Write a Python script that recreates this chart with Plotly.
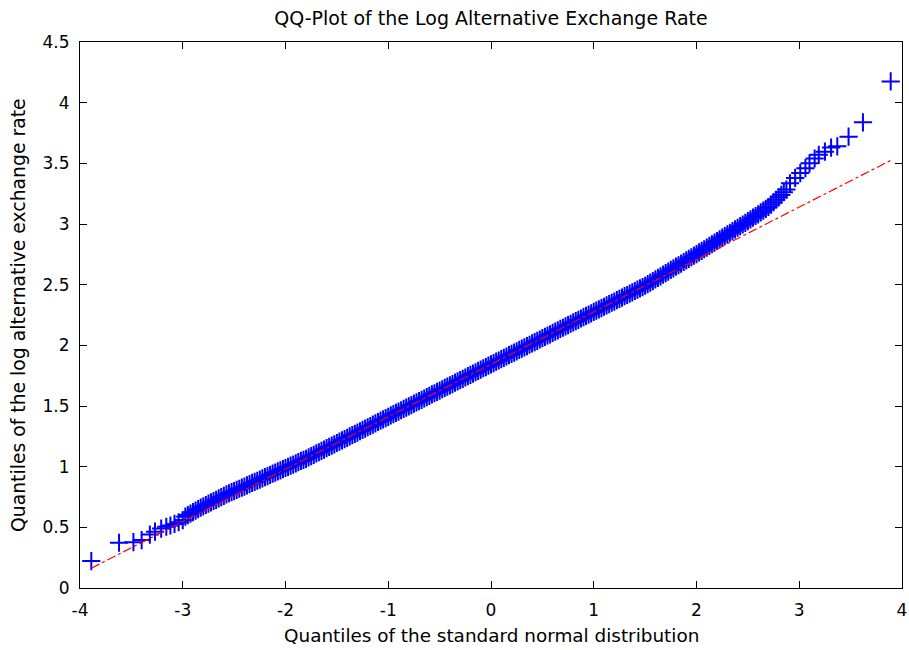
import plotly.graph_objects as go

# Left tail sample points (theoretical quantile, sample quantile)
tail_left_x = [-3.89, -3.62, -3.48, -3.40, -3.32, -3.27, -3.21, -3.16, -3.12, -3.08, -3.04, -3.00]
tail_left_y = [0.222, 0.373, 0.378, 0.395, 0.440, 0.464, 0.490, 0.505, 0.515, 0.528, 0.542, 0.560]

# Dense body of the QQ plot
body_x = [
    -2.975, -2.95, -2.925, -2.9, -2.875, -2.85, -2.825, -2.8, -2.775, -2.75, -2.725, -2.7,
    -2.675, -2.65, -2.625, -2.6, -2.575, -2.55, -2.525, -2.5, -2.475, -2.45, -2.425, -2.4,
    -2.375, -2.35, -2.325, -2.3, -2.275, -2.25, -2.225, -2.2, -2.175, -2.15, -2.125, -2.1,
    -2.075, -2.05, -2.025, -2.0, -1.975, -1.95, -1.925, -1.9, -1.875, -1.85, -1.825, -1.8,
    -1.775, -1.75, -1.725, -1.7, -1.675, -1.65, -1.625, -1.6, -1.575, -1.55, -1.525, -1.5,
    -1.475, -1.45, -1.425, -1.4, -1.375, -1.35, -1.325, -1.3, -1.275, -1.25, -1.225, -1.2,
    -1.175, -1.15, -1.125, -1.1, -1.075, -1.05, -1.025, -1.0, -0.975, -0.95, -0.925, -0.9,
    -0.875, -0.85, -0.825, -0.8, -0.775, -0.75, -0.725, -0.7, -0.675, -0.65, -0.625, -0.6,
    -0.575, -0.55, -0.525, -0.5, -0.475, -0.45, -0.425, -0.4, -0.375, -0.35, -0.325, -0.3,
    -0.275, -0.25, -0.225, -0.2, -0.175, -0.15, -0.125, -0.1, -0.075, -0.05, -0.025, 0.0,
    0.025, 0.05, 0.075, 0.1, 0.125, 0.15, 0.175, 0.2, 0.225, 0.25, 0.275, 0.3,
    0.325, 0.35, 0.375, 0.4, 0.425, 0.45, 0.475, 0.5, 0.525, 0.55, 0.575, 0.6,
    0.625, 0.65, 0.675, 0.7, 0.725, 0.75, 0.775, 0.8, 0.825, 0.85, 0.875, 0.9,
    0.925, 0.95, 0.975, 1.0, 1.025, 1.05, 1.075, 1.1, 1.125, 1.15, 1.175, 1.2,
    1.225, 1.25, 1.275, 1.3, 1.325, 1.35, 1.375, 1.4, 1.425, 1.45, 1.475, 1.5,
    1.525, 1.55, 1.575, 1.6, 1.625, 1.65, 1.675, 1.7, 1.725, 1.75, 1.775, 1.8,
    1.825, 1.85, 1.875, 1.9, 1.925, 1.95, 1.975, 2.0, 2.025, 2.05, 2.075, 2.1,
    2.125, 2.15, 2.175, 2.2, 2.225, 2.25, 2.275, 2.3, 2.325, 2.35, 2.375, 2.4,
    2.425, 2.45, 2.475, 2.5, 2.525, 2.55, 2.575, 2.6, 2.625, 2.65, 2.675, 2.7,
    2.725, 2.75, 2.775, 2.8, 2.825, 2.85, 2.875,
]
body_y = [
    0.588, 0.601, 0.613, 0.625, 0.638, 0.650, 0.663, 0.673, 0.684, 0.695, 0.706, 0.717,
    0.727, 0.738, 0.749, 0.760, 0.771, 0.781, 0.790, 0.798, 0.808, 0.818, 0.827, 0.836,
    0.846, 0.856, 0.866, 0.874, 0.884, 0.894, 0.904, 0.913, 0.922, 0.932, 0.942, 0.951,
    0.961, 0.970, 0.980, 0.989, 0.999, 1.009, 1.017, 1.027, 1.037, 1.047, 1.056, 1.065,
    1.076, 1.087, 1.098, 1.109, 1.119, 1.130, 1.141, 1.152, 1.163, 1.173, 1.184, 1.195,
    1.206, 1.217, 1.227, 1.238, 1.249, 1.260, 1.271, 1.281, 1.292, 1.303, 1.314, 1.325,
    1.335, 1.346, 1.357, 1.368, 1.379, 1.389, 1.400, 1.411, 1.422, 1.433, 1.443, 1.454,
    1.465, 1.476, 1.487, 1.497, 1.508, 1.519, 1.530, 1.541, 1.551, 1.562, 1.573, 1.584,
    1.595, 1.605, 1.616, 1.627, 1.638, 1.649, 1.659, 1.670, 1.681, 1.692, 1.703, 1.713,
    1.724, 1.735, 1.746, 1.757, 1.767, 1.778, 1.789, 1.800, 1.811, 1.821, 1.832, 1.843,
    1.854, 1.865, 1.875, 1.886, 1.897, 1.908, 1.919, 1.929, 1.940, 1.951, 1.962, 1.973,
    1.983, 1.994, 2.005, 2.016, 2.027, 2.037, 2.048, 2.059, 2.070, 2.081, 2.091, 2.102,
    2.113, 2.124, 2.135, 2.145, 2.156, 2.167, 2.178, 2.189, 2.199, 2.210, 2.221, 2.232,
    2.243, 2.253, 2.264, 2.275, 2.286, 2.297, 2.307, 2.318, 2.329, 2.340, 2.351, 2.361,
    2.372, 2.383, 2.394, 2.405, 2.415, 2.426, 2.437, 2.448, 2.459, 2.469, 2.480, 2.491,
    2.504, 2.517, 2.530, 2.543, 2.556, 2.569, 2.583, 2.595, 2.608, 2.622, 2.635, 2.648,
    2.660, 2.674, 2.687, 2.700, 2.713, 2.726, 2.739, 2.752, 2.766, 2.779, 2.792, 2.806,
    2.820, 2.833, 2.847, 2.860, 2.874, 2.888, 2.901, 2.915, 2.928, 2.942, 2.955, 2.969,
    2.983, 2.996, 3.009, 3.023, 3.038, 3.052, 3.066, 3.080, 3.095, 3.110, 3.125, 3.140,
    3.160, 3.180, 3.200, 3.220, 3.240, 3.262, 3.284,
]

# Right tail sample points
tail_right_x = [2.91, 2.96, 3.01, 3.06, 3.10, 3.15, 3.19, 3.25, 3.31, 3.37, 3.48, 3.62, 3.89]
tail_right_y = [3.335, 3.380, 3.420, 3.460, 3.500, 3.540, 3.570, 3.596, 3.630, 3.640, 3.720, 3.838, 4.175]

# Reference line endpoints (fit through quartiles)
ref_x = [-3.89, 3.89]
ref_y = [0.163, 3.524]

x_ticks = [-4, -3, -2, -1, 0, 1, 2, 3, 4]
x_tick_text = ["-4", "-3", "-2", "-1", "0", "1", "2", "3", "4"]
y_ticks = [0, 0.5, 1, 1.5, 2, 2.5, 3, 3.5, 4, 4.5]
y_tick_text = ["0", "0.5", "1", "1.5", "2", "2.5", "3", "3.5", "4", "4.5"]

all_x = tail_left_x + body_x + tail_right_x
all_y = tail_left_y + body_y + tail_right_y

FONT = "DejaVu Sans, Liberation Sans, Arial, sans-serif"

fig = go.Figure()
fig.add_trace(go.Scatter(
    x=all_x, y=all_y, mode="markers",
    marker=dict(symbol="cross-thin", size=13, color="#0000ff",
                line=dict(color="#0000ff", width=2)),
    showlegend=False, hoverinfo="skip", cliponaxis=False,
))
fig.add_trace(go.Scatter(
    x=ref_x, y=ref_y, mode="lines",
    line=dict(color="#ff0000", width=1.2, dash="dashdot"),
    showlegend=False, hoverinfo="skip",
))

axis_common = dict(
    showgrid=False, zeroline=False, showline=True, linecolor="black", linewidth=1,
    mirror="ticks", ticks="inside", ticklen=7, tickcolor="black", tickwidth=1,
    tickfont=dict(family=FONT, size=17, color="black"),
    ticklabeloverflow="allow", automargin=False,
)

fig.update_layout(
    width=909, height=650,
    margin=dict(l=80, r=7, t=42, b=62, autoexpand=False),
    paper_bgcolor="white", plot_bgcolor="white",
    title=dict(text="QQ-Plot of the Log Alternative Exchange Rate",
               x=0.5, xref="paper", y=1 - 18 / 650, yref="container",
               xanchor="center", yanchor="middle",
               font=dict(family=FONT, size=19, color="black")),
    xaxis=dict(range=[-4, 4], tickvals=x_ticks, ticktext=x_tick_text,
               ticklabelstandoff=7, **axis_common),
    yaxis=dict(range=[0, 4.5], tickvals=y_ticks, ticktext=y_tick_text,
               ticklabelstandoff=6, **axis_common),
)
fig.add_annotation(text="Quantiles of the standard normal distribution",
                   x=0.5, xref="paper", y=0, yref="paper", yshift=-47,
                   xanchor="center", yanchor="middle", showarrow=False,
                   font=dict(family=FONT, size=18.4, color="black"))
fig.add_annotation(text="Quantiles of the log alternative exchange rate",
                   x=0, xref="paper", y=0.5, yref="paper", xshift=-62,
                   xanchor="center", yanchor="middle", textangle=-90, showarrow=False,
                   font=dict(family=FONT, size=18.8, color="black"))

fig.write_html("out.html")
